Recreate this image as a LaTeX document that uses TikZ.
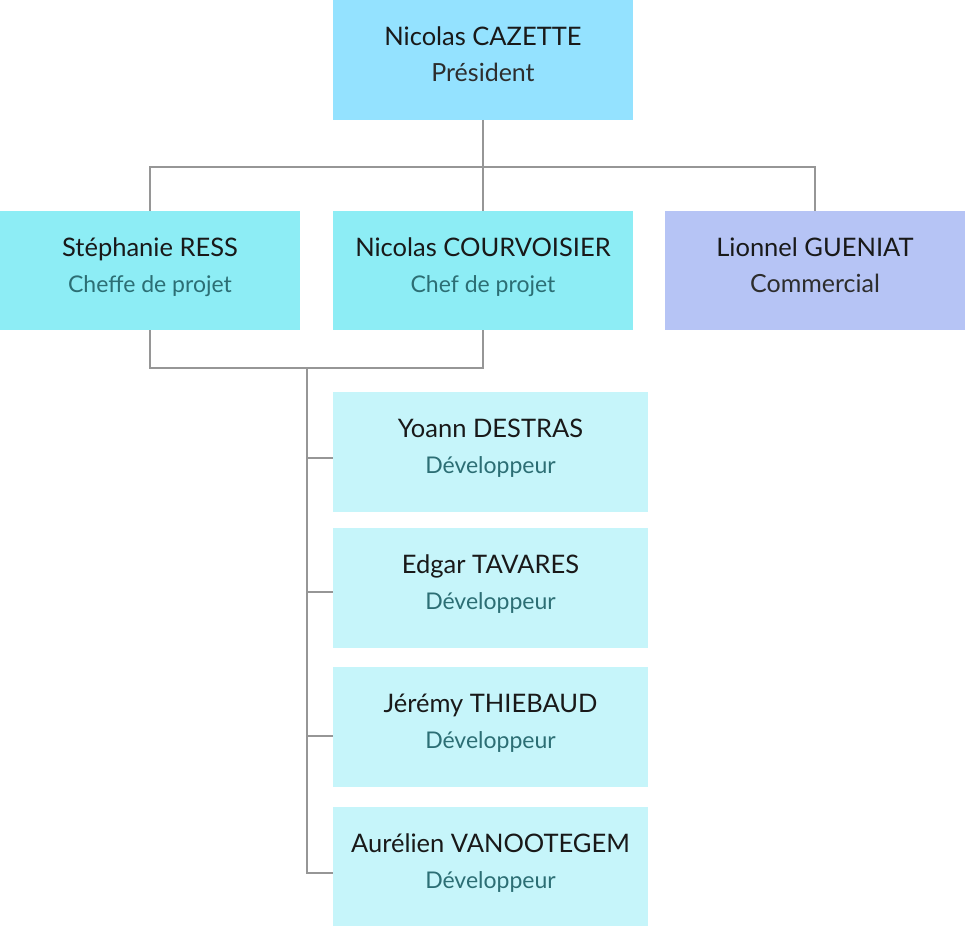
\documentclass[tikz,border=0pt]{standalone}
\usepackage{fontspec}
\setmainfont{Lato}
\usetikzlibrary{positioning}

\definecolor{presfill}{RGB}{148,226,255}
\definecolor{leadfill}{RGB}{141,237,245}
\definecolor{salesfill}{RGB}{182,196,245}
\definecolor{devfill}{RGB}{198,245,250}
\definecolor{teal}{RGB}{44,110,116}
\definecolor{dark}{RGB}{45,45,45}
\definecolor{linkgray}{RGB}{150,150,150}

\newcommand{\tealrole}{\fontsize{23}{36}\selectfont\color{teal}}
\newcommand{\darkrole}{\fontsize{25}{36}\selectfont\color{dark}}
\newcommand{\person}[3]{\fontsize{25.5}{36}\selectfont
  \begin{tabular}{@{}c@{}}#1\\ #3#2\\[7pt]\end{tabular}}

\tikzset{
  box/.style={inner sep=0pt, outer sep=0pt, align=center, text=black!90,
    minimum width=300pt, minimum height=119pt},
  boss/.style={box, fill=presfill, minimum height=120pt},
  lead/.style={box, fill=leadfill},
  sales/.style={box, fill=salesfill},
  dev/.style={box, fill=devfill, minimum width=315pt, minimum height=120pt},
  link/.style={draw=linkgray, line width=1.1pt}
}

\begin{document}
\begin{tikzpicture}[x=1pt, y=1pt]
      \useasboundingbox (0,0) rectangle (965,-925);
      \node [boss] (pres) at (483,-60) {\person{Nicolas CAZETTE}{Président}{\darkrole}};
      \node [lead, below=91pt of pres] (courv) {\person{Nicolas COURVOISIER}{Chef de projet}{\tealrole}};
      \node [lead, left=33pt of courv] (ress) {\person{Stéphanie RESS}{Cheffe de projet}{\tealrole}};
      \node [sales, right=32pt of courv] (gueniat) {\person{Lionnel GUENIAT}{Commercial}{\darkrole}};
      \node [dev, below right=62pt and 0pt of courv.south west] (dev1) {\person{Yoann DESTRAS}{Développeur}{\tealrole}};
      \node [dev, below=16pt of dev1] (dev2) {\person{Edgar TAVARES}{Développeur}{\tealrole}};
      \node [dev, below=19pt of dev2] (dev3) {\person{Jérémy THIEBAUD}{Développeur}{\tealrole}};
      \node [dev, below=20pt of dev3] (dev4) {\person{Aurélien VANOOTEGEM}{Développeur}{\tealrole}};
      \coordinate (hub) at ([yshift=-47pt]pres.south);
      \coordinate (bus) at ([yshift=-38pt]ress.south);
      \coordinate (trunk) at ([xshift=-26pt]dev1.west |- bus);
      \draw [link] (pres) -- (courv);
      \draw [link] (ress.north) |- (hub) -| (gueniat.north);
      \draw [link] (ress.south) |- (bus) -| (courv.south);
      \foreach \d/\s in {dev1/6,dev2/4,dev3/9,dev4/6}
        \draw [link] (trunk) |- ([yshift=-\s pt]\d.west);
      \end{tikzpicture}
\end{document}
